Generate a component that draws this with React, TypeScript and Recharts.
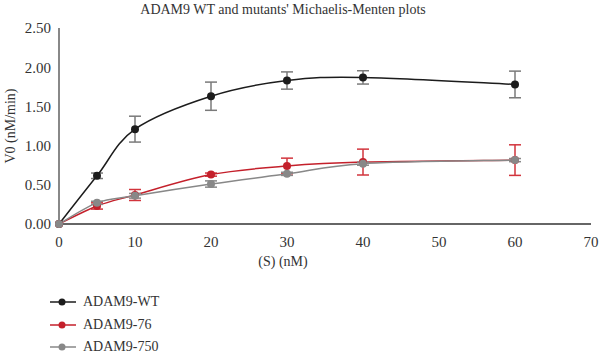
import { LineChart, Line, XAxis, YAxis, ErrorBar } from "recharts";

const conc = [0, 5, 10, 20, 30, 40, 60];
const wt = [0, 0.615, 1.21, 1.63, 1.83, 1.87, 1.78];
const wtErr = [0, 0.035, 0.165, 0.18, 0.11, 0.085, 0.17];
const m76 = [0, 0.23, 0.37, 0.63, 0.74, 0.79, 0.815];
const m76Err = [0, 0.04, 0.07, 0.02, 0.1, 0.165, 0.195];
const m750 = [0, 0.27, 0.36, 0.51, 0.64, 0.77, 0.815];
const m750Err = [0, 0.02, 0.03, 0.04, 0.02, 0.02, 0.02];
const xTicks = [0, 10, 20, 30, 40, 50, 60, 70];
const yTicks = [0, 0.5, 1, 1.5, 2, 2.5];

const data = conc.map((s, i) => ({
  s,
  wt: wt[i], wtErr: wtErr[i],
  m76: m76[i], m76Err: m76Err[i],
  m750: m750[i], m750Err: m750Err[i],
}));

const series = [
  { key: "wt", name: "ADAM9-WT", color: "#1c1c1c", err: "#7a7a7a" },
  { key: "m76", name: "ADAM9-76", color: "#c4202b", err: "#d2343c" },
  { key: "m750", name: "ADAM9-750", color: "#888888", err: "#888888" },
];

// excel-like smoothed line (catmull-rom style bezier)
const smooth = (context: any) => {
  let pts: number[][] = [];
  return {
    areaStart() {},
    areaEnd() {},
    lineStart() { pts = []; },
    point(x: number, y: number) { pts.push([+x, +y]); },
    lineEnd() {
      if (!pts.length) return;
      context.moveTo(pts[0][0], pts[0][1]);
      for (let i = 0; i < pts.length - 1; i++) {
        const p0 = pts[i - 1] || pts[i];
        const p1 = pts[i];
        const p2 = pts[i + 1];
        const p3 = pts[i + 2] || p2;
        context.bezierCurveTo(
          p1[0] + (p2[0] - p0[0]) / 6, p1[1] + (p2[1] - p0[1]) / 6,
          p2[0] - (p3[0] - p1[0]) / 6, p2[1] - (p3[1] - p1[1]) / 6,
          p2[0], p2[1]
        );
      }
    },
  };
};

const serif = "Liberation Serif";
const txt = { fontSize: 15, fill: "#333", fontFamily: serif };
const lbl = { fontSize: 14, fill: "#333", fontFamily: serif };

export default function App() {
  return (
    <div style={{ position: "absolute", left: 0, top: 0, width: 600, height: 356, background: "#fff", fontFamily: serif }}>
      <LineChart width={600} height={356} data={data} margin={{ top: 28, right: 9, bottom: 82, left: 0 }} style={{ fontFamily: serif }}>
        <text x={283} y={14} textAnchor="middle" style={{ fontSize: 14, fill: "#333", fontFamily: serif }}>
          ADAM9 WT and mutants' Michaelis-Menten plots
        </text>
        <XAxis
          dataKey="s"
          type="number"
          domain={[0, 70]}
          ticks={xTicks}
          tickLine={false}
          axisLine={{ stroke: "#333", strokeWidth: 1.5 }}
          tick={{ ...txt, dy: 4 }}
          height={50}
          label={{ value: "(S) (nM)", position: "insideBottom", offset: 8, dx: -42, ...lbl }}
        />
        <YAxis
          domain={[0, 2.5]}
          ticks={yTicks}
          tickFormatter={(v: number) => v.toFixed(2)}
          tickLine={false}
          axisLine={{ stroke: "#888", strokeWidth: 2 }}
          tick={txt}
          width={59}
          label={{ value: "V0 (nM/min)", angle: -90, position: "insideLeft", offset: 10, ...lbl, style: { textAnchor: "middle" } }}
        />
        {series.map((sr) => (
          <Line
            key={sr.key}
            dataKey={sr.key}
            name={sr.name}
            type={smooth as any}
            stroke={sr.color}
            strokeWidth={1.5}
            dot={{ r: 4, fill: sr.color, stroke: sr.color, strokeWidth: 0 }}
            activeDot={false}
            isAnimationActive={false}
          >
            <ErrorBar dataKey={sr.key + "Err"} direction="y" width={6} stroke={sr.err} strokeWidth={1.5} />
          </Line>
        ))}
      </LineChart>
      <div style={{ position: "absolute", left: 50, top: 291 }}>
        {series.map((sr) => (
          <div key={sr.key} style={{ display: "flex", alignItems: "center", height: 22.5, fontSize: 14, color: "#333", fontFamily: serif }}>
            <svg width={26} height={10} style={{ marginRight: 7 }}>
              <line x1={0} y1={5} x2={26} y2={5} stroke={sr.color} strokeWidth={1.5} />
              <circle cx={12} cy={5} r={3.5} fill={sr.color} />
            </svg>
            {sr.name}
          </div>
        ))}
      </div>
    </div>
  );
}
